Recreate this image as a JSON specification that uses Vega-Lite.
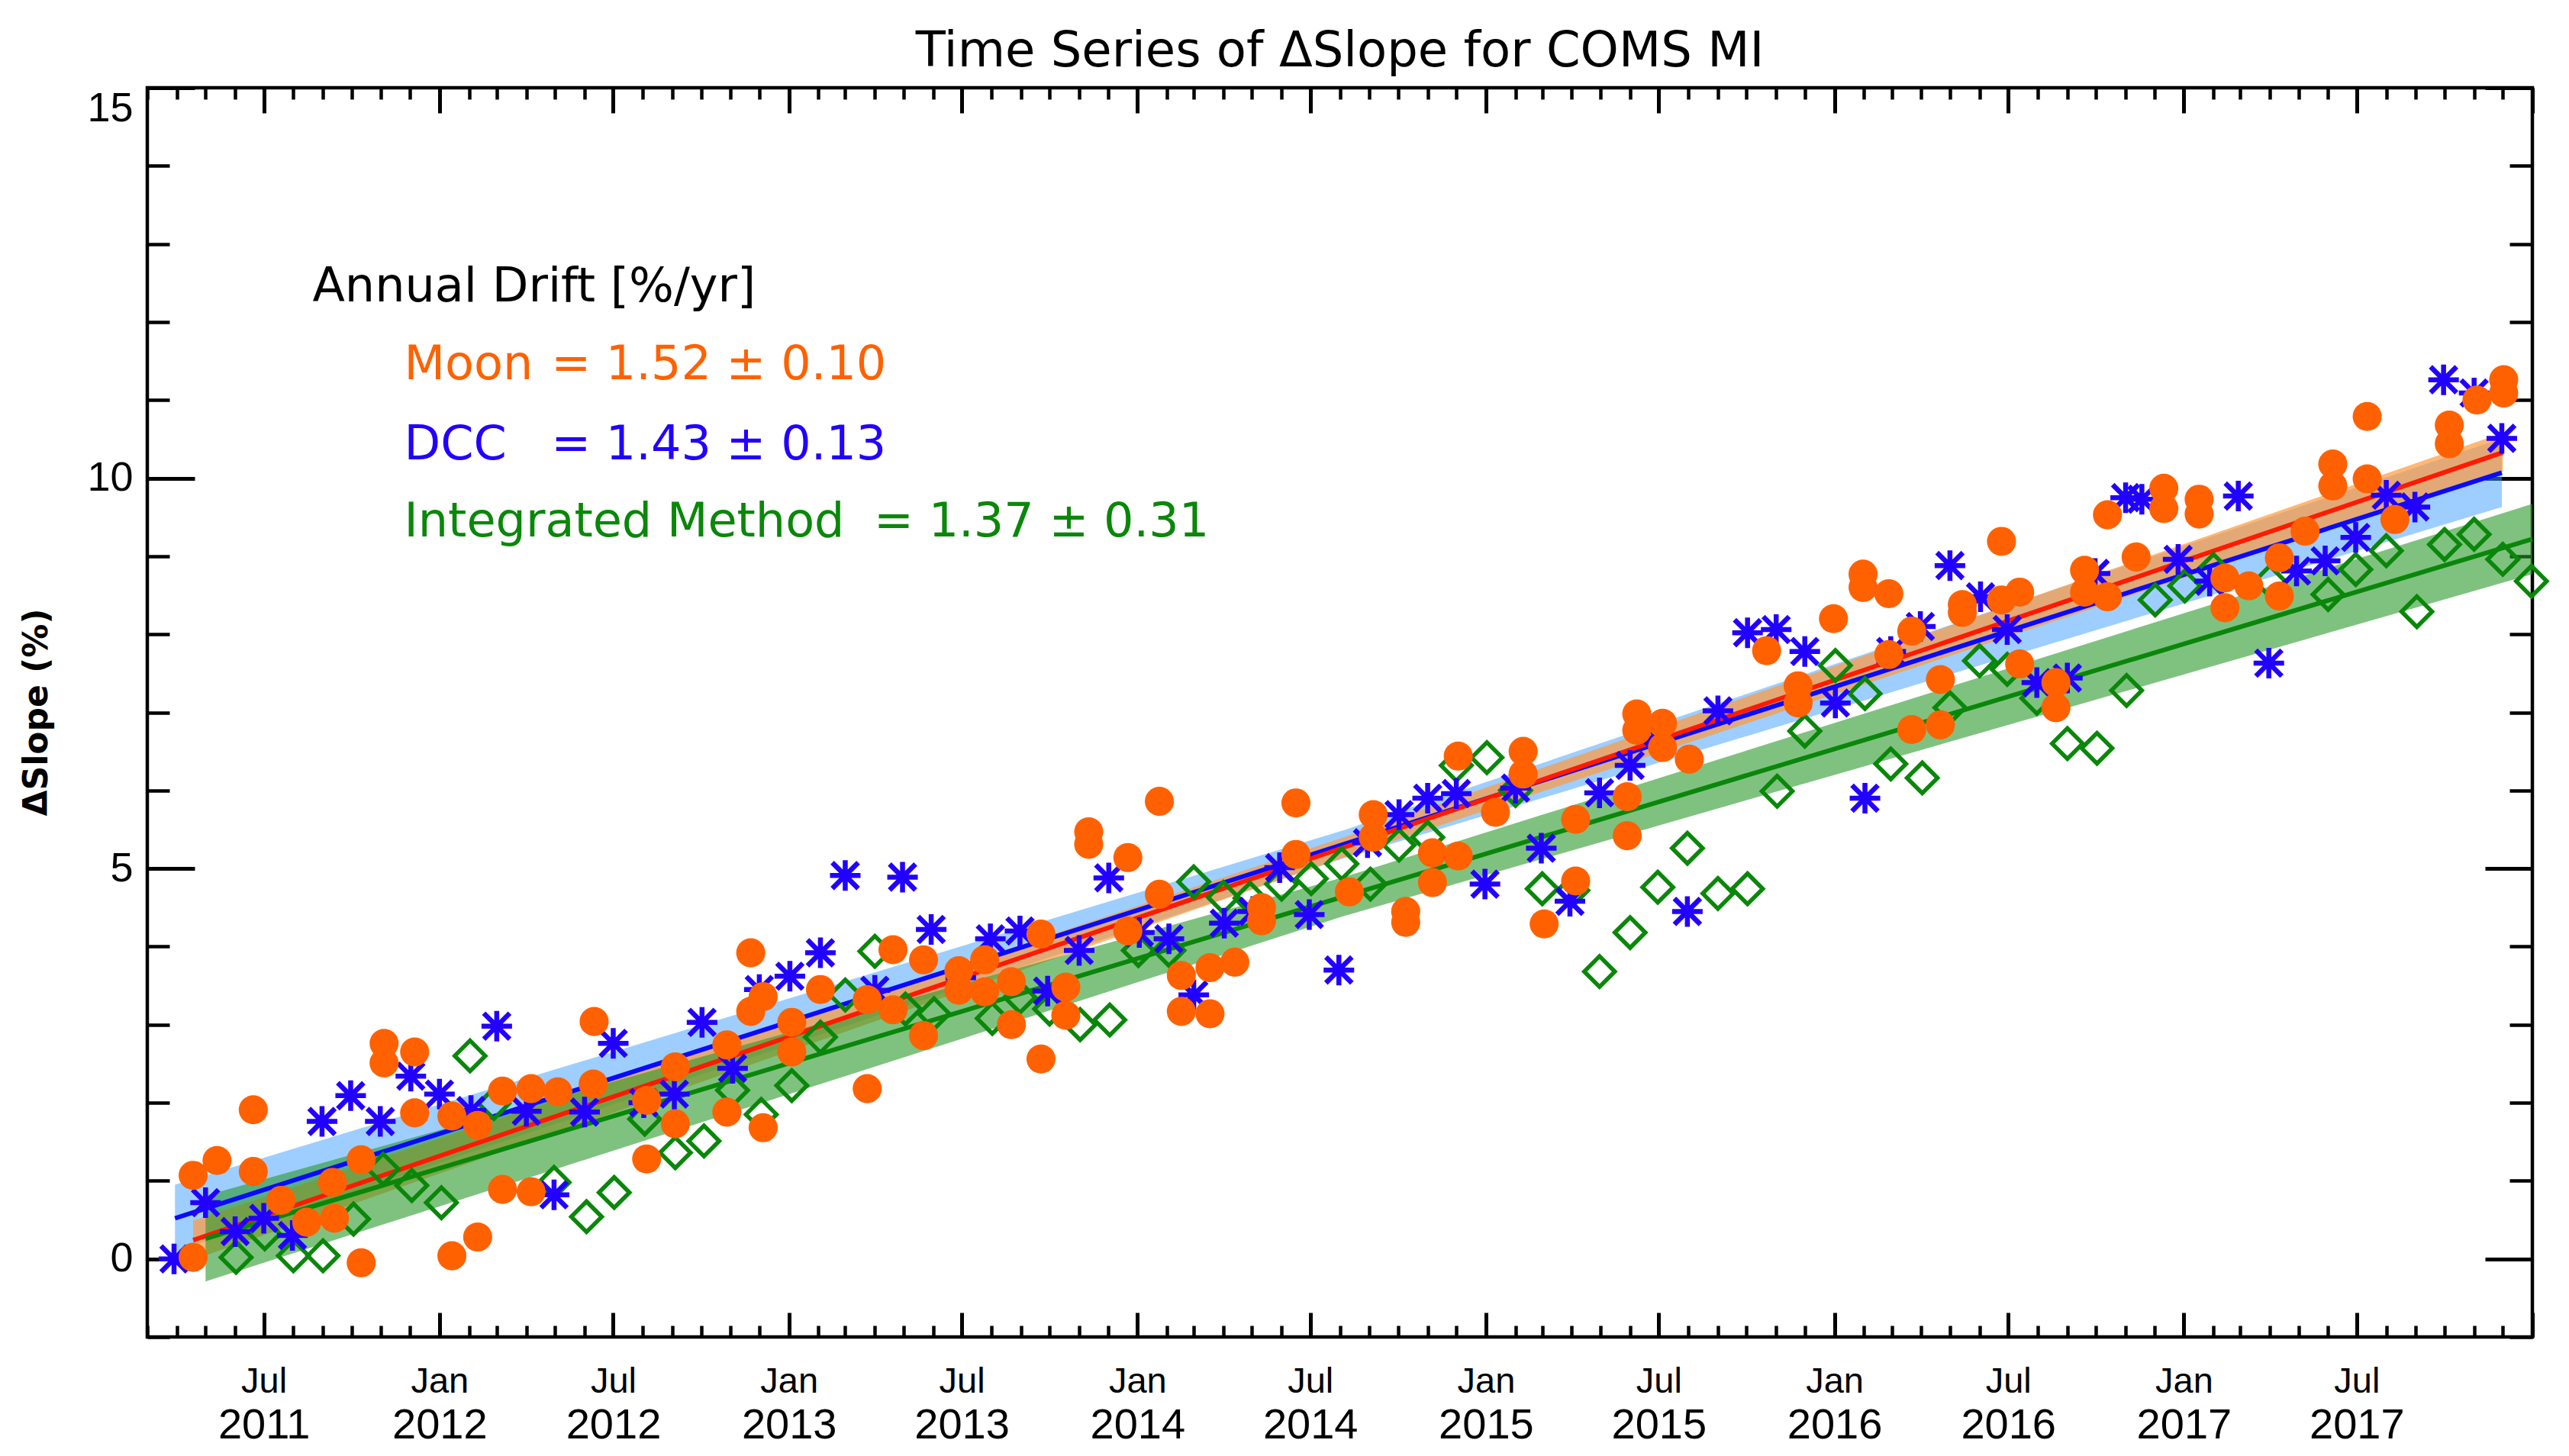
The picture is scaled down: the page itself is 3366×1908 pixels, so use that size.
{
  "$schema": "https://vega.github.io/schema/vega-lite/v6.json",
  "width": 3125,
  "height": 1637,
  "autosize": "none",
  "padding": {"left": 193, "top": 115, "right": 48, "bottom": 156},
  "background": "white",
  "config": {
    "font": "DejaVu Sans",
    "view": {"stroke": "black", "strokeWidth": 4.5},
    "axis": {"grid": false, "domain": false, "tickColor": "black", "labelColor": "black", "labelFont": "Liberation Sans", "zindex": 1}
  },
  "title": {
    "text": "Time Series of ΔSlope for COMS MI",
    "font": "DejaVu Sans",
    "fontSize": 64,
    "fontWeight": "normal",
    "color": "black",
    "anchor": "middle",
    "baseline": "alphabetic",
    "offset": -38
  },
  "datasets": {
    "fit": [
      {"s": "DCC", "d": "2011-03-30", "f": 0.52, "lo": 0.09, "hi": 0.95},
      {"s": "DCC", "d": "2014-08-05", "f": 5.31, "lo": 5.13, "hi": 5.49},
      {"s": "DCC", "d": "2017-11-30", "f": 10.07, "lo": 9.63, "hi": 10.51},
      {"s": "Moon", "d": "2011-04-18", "f": 0.24, "lo": -0.01, "hi": 0.49},
      {"s": "Moon", "d": "2014-08-05", "f": 5.27, "lo": 5.14, "hi": 5.40},
      {"s": "Moon", "d": "2017-12-01", "f": 10.33, "lo": 10.08, "hi": 10.58},
      {"s": "Integrated", "d": "2011-05-01", "f": 0.26, "lo": -0.29, "hi": 0.81},
      {"s": "Integrated", "d": "2014-08-05", "f": 4.64, "lo": 4.39, "hi": 4.89},
      {"s": "Integrated", "d": "2018-01-01", "f": 9.22, "lo": 8.77, "hi": 9.67}
    ],
    "dcc": [
      {"d": "2011-03-29", "v": 0.00}, {"d": "2011-05-01", "v": 0.72}, {"d": "2011-06-01", "v": 0.35},
      {"d": "2011-07-01", "v": 0.52}, {"d": "2011-07-31", "v": 0.30}, {"d": "2011-08-31", "v": 1.76},
      {"d": "2011-09-30", "v": 2.09}, {"d": "2011-10-31", "v": 1.76}, {"d": "2011-12-02", "v": 2.34},
      {"d": "2012-01-01", "v": 2.11}, {"d": "2012-02-03", "v": 1.90}, {"d": "2012-03-01", "v": 2.98},
      {"d": "2012-04-01", "v": 1.89}, {"d": "2012-04-30", "v": 0.82}, {"d": "2012-06-01", "v": 1.88},
      {"d": "2012-07-01", "v": 2.76}, {"d": "2012-08-02", "v": 2.00}, {"d": "2012-09-03", "v": 2.11},
      {"d": "2012-10-02", "v": 3.03}, {"d": "2012-11-03", "v": 2.44}, {"d": "2012-12-01", "v": 3.45},
      {"d": "2013-01-02", "v": 3.62}, {"d": "2013-02-03", "v": 3.92}, {"d": "2013-03-01", "v": 4.91},
      {"d": "2013-04-01", "v": 3.44}, {"d": "2013-04-30", "v": 4.89}, {"d": "2013-05-30", "v": 4.22},
      {"d": "2013-06-30", "v": 3.60}, {"d": "2013-07-31", "v": 4.10}, {"d": "2013-08-31", "v": 4.20},
      {"d": "2013-09-29", "v": 3.43}, {"d": "2013-11-01", "v": 3.95}, {"d": "2013-12-02", "v": 4.88},
      {"d": "2014-01-03", "v": 4.18}, {"d": "2014-02-03", "v": 4.10}, {"d": "2014-03-01", "v": 3.38},
      {"d": "2014-04-02", "v": 4.30}, {"d": "2014-05-02", "v": 4.45}, {"d": "2014-05-30", "v": 5.01},
      {"d": "2014-06-30", "v": 4.41}, {"d": "2014-07-31", "v": 3.70}, {"d": "2014-08-30", "v": 5.33},
      {"d": "2014-10-02", "v": 5.69}, {"d": "2014-11-01", "v": 5.90}, {"d": "2014-12-01", "v": 5.96},
      {"d": "2014-12-31", "v": 4.80}, {"d": "2015-02-01", "v": 6.03}, {"d": "2015-02-28", "v": 5.26},
      {"d": "2015-03-30", "v": 4.58}, {"d": "2015-04-30", "v": 5.97}, {"d": "2015-06-01", "v": 6.32},
      {"d": "2015-06-30", "v": 6.75}, {"d": "2015-07-31", "v": 4.45}, {"d": "2015-09-01", "v": 7.02},
      {"d": "2015-10-02", "v": 8.02}, {"d": "2015-11-01", "v": 8.06}, {"d": "2015-12-01", "v": 7.78},
      {"d": "2016-01-02", "v": 7.12}, {"d": "2016-02-02", "v": 5.90}, {"d": "2016-02-29", "v": 7.78},
      {"d": "2016-03-31", "v": 8.10}, {"d": "2016-05-01", "v": 8.88}, {"d": "2016-06-02", "v": 8.48},
      {"d": "2016-06-30", "v": 8.06}, {"d": "2016-07-31", "v": 7.38}, {"d": "2016-09-01", "v": 7.44},
      {"d": "2016-09-30", "v": 8.78}, {"d": "2016-11-01", "v": 9.75}, {"d": "2016-11-18", "v": 9.73},
      {"d": "2016-12-26", "v": 8.96}, {"d": "2017-01-28", "v": 8.68}, {"d": "2017-02-27", "v": 9.77},
      {"d": "2017-03-31", "v": 7.63}, {"d": "2017-04-29", "v": 8.81}, {"d": "2017-05-29", "v": 8.94},
      {"d": "2017-06-30", "v": 9.24}, {"d": "2017-08-01", "v": 9.78}, {"d": "2017-08-31", "v": 9.63},
      {"d": "2017-09-30", "v": 11.26}, {"d": "2017-11-01", "v": 11.09}, {"d": "2017-11-30", "v": 10.51}
    ],
    "moon": [
      {"d": "2011-04-18", "v": 0.02}, {"d": "2011-04-18", "v": 1.07}, {"d": "2011-05-13", "v": 1.26},
      {"d": "2011-06-20", "v": 1.91}, {"d": "2011-06-20", "v": 1.12}, {"d": "2011-07-19", "v": 0.75},
      {"d": "2011-08-15", "v": 0.47}, {"d": "2011-09-11", "v": 0.98}, {"d": "2011-09-13", "v": 0.52},
      {"d": "2011-10-11", "v": 1.27}, {"d": "2011-10-11", "v": -0.05}, {"d": "2011-11-04", "v": 2.76},
      {"d": "2011-11-04", "v": 2.51}, {"d": "2011-12-06", "v": 2.65}, {"d": "2011-12-06", "v": 1.87},
      {"d": "2012-01-14", "v": 1.83}, {"d": "2012-01-14", "v": 0.04}, {"d": "2012-02-10", "v": 1.71},
      {"d": "2012-02-10", "v": 0.28}, {"d": "2012-03-07", "v": 2.15}, {"d": "2012-03-07", "v": 0.89},
      {"d": "2012-04-06", "v": 2.18}, {"d": "2012-04-06", "v": 0.86}, {"d": "2012-05-04", "v": 2.14},
      {"d": "2012-06-10", "v": 2.24}, {"d": "2012-06-11", "v": 3.04}, {"d": "2012-08-05", "v": 2.03},
      {"d": "2012-08-05", "v": 1.28}, {"d": "2012-09-04", "v": 2.46}, {"d": "2012-09-04", "v": 1.73},
      {"d": "2012-10-28", "v": 2.74}, {"d": "2012-10-28", "v": 1.88}, {"d": "2012-11-22", "v": 3.92},
      {"d": "2012-11-22", "v": 3.17}, {"d": "2012-12-05", "v": 3.36}, {"d": "2012-12-05", "v": 1.68},
      {"d": "2013-01-04", "v": 3.03}, {"d": "2013-01-04", "v": 2.65}, {"d": "2013-02-03", "v": 3.45},
      {"d": "2013-03-24", "v": 3.32}, {"d": "2013-03-24", "v": 2.18}, {"d": "2013-04-20", "v": 3.96},
      {"d": "2013-04-20", "v": 3.19}, {"d": "2013-05-22", "v": 3.83}, {"d": "2013-05-22", "v": 2.86},
      {"d": "2013-06-28", "v": 3.69}, {"d": "2013-06-28", "v": 3.44}, {"d": "2013-07-25", "v": 3.83},
      {"d": "2013-07-25", "v": 3.42}, {"d": "2013-08-22", "v": 3.55}, {"d": "2013-08-22", "v": 3.00},
      {"d": "2013-09-22", "v": 4.16}, {"d": "2013-09-22", "v": 2.56}, {"d": "2013-10-18", "v": 3.48},
      {"d": "2013-10-18", "v": 3.12}, {"d": "2013-11-11", "v": 5.47}, {"d": "2013-11-11", "v": 5.31},
      {"d": "2013-12-22", "v": 5.14}, {"d": "2013-12-22", "v": 4.20}, {"d": "2014-01-24", "v": 5.86},
      {"d": "2014-01-24", "v": 4.67}, {"d": "2014-02-16", "v": 3.63}, {"d": "2014-02-16", "v": 3.17},
      {"d": "2014-03-18", "v": 3.73}, {"d": "2014-03-18", "v": 3.14}, {"d": "2014-04-13", "v": 3.80},
      {"d": "2014-05-11", "v": 4.50}, {"d": "2014-05-11", "v": 4.33}, {"d": "2014-06-16", "v": 5.84},
      {"d": "2014-06-16", "v": 5.18}, {"d": "2014-08-11", "v": 4.70}, {"d": "2014-09-05", "v": 5.69},
      {"d": "2014-09-05", "v": 5.40}, {"d": "2014-10-09", "v": 4.45}, {"d": "2014-10-09", "v": 4.31},
      {"d": "2014-11-06", "v": 5.20}, {"d": "2014-11-06", "v": 4.82}, {"d": "2014-12-03", "v": 6.44},
      {"d": "2014-12-03", "v": 5.16}, {"d": "2015-01-11", "v": 5.72}, {"d": "2015-02-09", "v": 6.50},
      {"d": "2015-02-09", "v": 6.21}, {"d": "2015-03-03", "v": 4.29}, {"d": "2015-04-05", "v": 5.63},
      {"d": "2015-04-05", "v": 4.84}, {"d": "2015-05-29", "v": 5.92}, {"d": "2015-05-29", "v": 5.42},
      {"d": "2015-06-08", "v": 6.98}, {"d": "2015-06-08", "v": 6.77}, {"d": "2015-07-05", "v": 6.86},
      {"d": "2015-07-05", "v": 6.55}, {"d": "2015-08-02", "v": 6.40}, {"d": "2015-10-22", "v": 7.79},
      {"d": "2015-11-24", "v": 7.34}, {"d": "2015-11-24", "v": 7.12}, {"d": "2015-12-31", "v": 8.20},
      {"d": "2016-01-31", "v": 8.77}, {"d": "2016-01-31", "v": 8.60}, {"d": "2016-02-27", "v": 8.52},
      {"d": "2016-02-27", "v": 7.74}, {"d": "2016-03-22", "v": 8.04}, {"d": "2016-03-22", "v": 6.78},
      {"d": "2016-04-21", "v": 7.42}, {"d": "2016-04-21", "v": 6.84}, {"d": "2016-05-14", "v": 8.38},
      {"d": "2016-05-14", "v": 8.28}, {"d": "2016-06-24", "v": 9.19}, {"d": "2016-06-24", "v": 8.44},
      {"d": "2016-07-13", "v": 8.54}, {"d": "2016-07-13", "v": 7.62}, {"d": "2016-08-20", "v": 7.38},
      {"d": "2016-08-20", "v": 7.06}, {"d": "2016-09-19", "v": 8.82}, {"d": "2016-09-19", "v": 8.54},
      {"d": "2016-10-13", "v": 9.53}, {"d": "2016-10-13", "v": 8.48}, {"d": "2016-11-12", "v": 8.99},
      {"d": "2016-12-11", "v": 9.87}, {"d": "2016-12-11", "v": 9.61}, {"d": "2017-01-17", "v": 9.73},
      {"d": "2017-01-17", "v": 9.54}, {"d": "2017-02-13", "v": 8.72}, {"d": "2017-02-13", "v": 8.34},
      {"d": "2017-03-10", "v": 8.62}, {"d": "2017-04-11", "v": 8.98}, {"d": "2017-04-11", "v": 8.49},
      {"d": "2017-05-08", "v": 9.32}, {"d": "2017-06-06", "v": 10.18}, {"d": "2017-06-06", "v": 9.90},
      {"d": "2017-07-12", "v": 10.79}, {"d": "2017-07-12", "v": 9.99}, {"d": "2017-08-10", "v": 9.47},
      {"d": "2017-10-06", "v": 10.68}, {"d": "2017-10-06", "v": 10.44}, {"d": "2017-11-04", "v": 11.00},
      {"d": "2017-12-02", "v": 11.26}, {"d": "2017-12-02", "v": 11.09}
    ],
    "integ": [
      {"d": "2011-06-02", "v": 0.02}, {"d": "2011-07-02", "v": 0.32}, {"d": "2011-08-01", "v": 0.04},
      {"d": "2011-09-01", "v": 0.04}, {"d": "2011-10-03", "v": 0.51}, {"d": "2011-11-03", "v": 1.15},
      {"d": "2011-12-03", "v": 0.94}, {"d": "2012-01-03", "v": 0.72}, {"d": "2012-02-02", "v": 2.60},
      {"d": "2012-02-27", "v": 1.99}, {"d": "2012-04-30", "v": 0.98}, {"d": "2012-06-03", "v": 0.54},
      {"d": "2012-07-02", "v": 0.85}, {"d": "2012-08-03", "v": 1.79}, {"d": "2012-09-04", "v": 1.36},
      {"d": "2012-10-04", "v": 1.51}, {"d": "2012-11-03", "v": 2.16}, {"d": "2012-12-03", "v": 1.85},
      {"d": "2013-01-04", "v": 2.22}, {"d": "2013-02-03", "v": 2.84}, {"d": "2013-03-01", "v": 3.38},
      {"d": "2013-04-01", "v": 3.94}, {"d": "2013-05-03", "v": 3.20}, {"d": "2013-06-02", "v": 3.14},
      {"d": "2013-08-02", "v": 3.08}, {"d": "2013-08-31", "v": 3.35}, {"d": "2013-10-01", "v": 3.20},
      {"d": "2013-11-02", "v": 3.00}, {"d": "2013-12-03", "v": 3.06}, {"d": "2014-01-02", "v": 3.95},
      {"d": "2014-02-03", "v": 3.95}, {"d": "2014-03-01", "v": 4.83}, {"d": "2014-04-01", "v": 4.63},
      {"d": "2014-04-29", "v": 4.62}, {"d": "2014-06-01", "v": 4.80}, {"d": "2014-07-02", "v": 4.87},
      {"d": "2014-08-03", "v": 5.06}, {"d": "2014-09-02", "v": 4.80}, {"d": "2014-10-02", "v": 5.30},
      {"d": "2014-11-01", "v": 5.40}, {"d": "2014-12-01", "v": 6.32}, {"d": "2015-01-02", "v": 6.42},
      {"d": "2015-02-01", "v": 6.00}, {"d": "2015-03-01", "v": 4.74}, {"d": "2015-04-02", "v": 4.72},
      {"d": "2015-04-30", "v": 3.68}, {"d": "2015-06-01", "v": 4.18}, {"d": "2015-06-30", "v": 4.76},
      {"d": "2015-07-31", "v": 5.26}, {"d": "2015-09-01", "v": 4.68}, {"d": "2015-10-02", "v": 4.74},
      {"d": "2015-11-02", "v": 5.99}, {"d": "2015-12-01", "v": 6.76}, {"d": "2016-01-02", "v": 7.60},
      {"d": "2016-02-02", "v": 7.24}, {"d": "2016-02-29", "v": 6.34}, {"d": "2016-04-02", "v": 6.16},
      {"d": "2016-05-01", "v": 7.06}, {"d": "2016-06-01", "v": 7.66}, {"d": "2016-06-30", "v": 7.55},
      {"d": "2016-07-31", "v": 7.18}, {"d": "2016-09-01", "v": 6.60}, {"d": "2016-10-02", "v": 6.54},
      {"d": "2016-11-02", "v": 7.28}, {"d": "2016-12-02", "v": 8.44}, {"d": "2017-01-02", "v": 8.62},
      {"d": "2017-02-01", "v": 8.83}, {"d": "2017-04-01", "v": 8.68}, {"d": "2017-06-01", "v": 8.51},
      {"d": "2017-06-30", "v": 8.83}, {"d": "2017-08-01", "v": 9.07}, {"d": "2017-09-02", "v": 8.29},
      {"d": "2017-10-01", "v": 9.15}, {"d": "2017-11-01", "v": 9.28}, {"d": "2017-12-01", "v": 8.96},
      {"d": "2017-12-31", "v": 8.68}
    ],
    "notes": [
      {"t": "Annual Drift [%/yr]", "k": "head", "d": "2011-08-21", "v": 12.26},
      {"t": "Moon", "k": "Moon", "d": "2011-11-25", "v": 11.27},
      {"t": "= 1.52 ± 0.10", "k": "Moon", "d": "2012-04-27", "v": 11.27},
      {"t": "DCC", "k": "DCC", "d": "2011-11-25", "v": 10.24},
      {"t": "= 1.43 ± 0.13", "k": "DCC", "d": "2012-04-27", "v": 10.24},
      {"t": "Integrated Method", "k": "Integrated", "d": "2011-11-25", "v": 9.25},
      {"t": "= 1.37 ± 0.31", "k": "Integrated", "d": "2013-03-31", "v": 9.25}
    ]
  },
  "resolve": {
    "scale": {"x": "shared", "y": "shared"},
    "axis": {"x": "independent", "y": "independent"}
  },
  "layer": [
    {
      "data": {"name": "fit"},
      "transform": [{"filter": "datum.s === 'DCC'"}],
      "mark": {"type": "area", "color": "#3d9dff", "opacity": 0.5},
      "encoding": {
        "x": {
          "field": "d", "type": "temporal",
          "scale": {"type": "utc", "nice": false, "domain": [{"year": 2011, "month": 3, "date": 1, "utc": true}, {"year": 2018, "month": 1, "date": 1, "utc": true}]},
          "axis": {
            "orient": "bottom", "title": null, "ticks": false,
            "values": [
              {"year": 2011, "month": 7, "date": 1, "utc": true}, {"year": 2012, "month": 1, "date": 1, "utc": true},
              {"year": 2012, "month": 7, "date": 1, "utc": true}, {"year": 2013, "month": 1, "date": 1, "utc": true},
              {"year": 2013, "month": 7, "date": 1, "utc": true}, {"year": 2014, "month": 1, "date": 1, "utc": true},
              {"year": 2014, "month": 7, "date": 1, "utc": true}, {"year": 2015, "month": 1, "date": 1, "utc": true},
              {"year": 2015, "month": 7, "date": 1, "utc": true}, {"year": 2016, "month": 1, "date": 1, "utc": true},
              {"year": 2016, "month": 7, "date": 1, "utc": true}, {"year": 2017, "month": 1, "date": 1, "utc": true},
              {"year": 2017, "month": 7, "date": 1, "utc": true}
            ],
            "labelExpr": "utcFormat(datum.value, '%b')",
            "labelFontSize": 47, "labelPadding": 72, "labelBaseline": "alphabetic",
            "labelOverlap": false, "labelFlush": false
          }
        },
        "y": {
          "field": "lo", "type": "quantitative",
          "scale": {"domain": [-1, 15], "nice": false, "zero": false},
          "axis": {
            "orient": "left", "values": [0, 5, 10, 15], "ticks": false,
            "labelFontSize": 54, "labelPadding": 19, "labelFlush": true, "labelOverlap": false,
            "title": "ΔSlope (%)", "titleFont": "DejaVu Sans", "titleFontSize": 44, "titleFontWeight": "bold",
            "titleColor": "black", "titleAngle": -90, "titleX": -145, "titleY": 818,
            "titleAlign": "center", "titleBaseline": "middle"
          }
        },
        "y2": {"field": "hi"}
      }
    },
    {
      "data": {"name": "fit"},
      "transform": [{"filter": "datum.s === 'Moon'"}],
      "mark": {"type": "area", "color": "#ff9a3c", "opacity": 0.7},
      "encoding": {
        "x": {
          "field": "d", "type": "temporal",
          "scale": {"type": "utc", "nice": false, "domain": [{"year": 2011, "month": 3, "date": 1, "utc": true}, {"year": 2018, "month": 1, "date": 1, "utc": true}]},
          "axis": {"orient": "bottom", "title": null, "labels": false, "tickCount": {"interval": "month", "step": 6}, "tickSize": -32, "tickWidth": 5}
        },
        "y": {
          "field": "lo", "type": "quantitative",
          "scale": {"domain": [-1, 15], "nice": false, "zero": false},
          "axis": {"orient": "left", "title": null, "labels": false, "values": [0, 5, 10, 15], "tickSize": -62, "tickWidth": 5}
        },
        "y2": {"field": "hi"}
      }
    },
    {
      "data": {"name": "fit"},
      "transform": [{"filter": "datum.s === 'Integrated'"}],
      "mark": {"type": "area", "color": "#2a9a2a", "opacity": 0.6},
      "encoding": {
        "x": {
          "field": "d", "type": "temporal",
          "scale": {"type": "utc", "nice": false, "domain": [{"year": 2011, "month": 3, "date": 1, "utc": true}, {"year": 2018, "month": 1, "date": 1, "utc": true}]},
          "axis": {
            "orient": "bottom", "title": null, "ticks": false,
            "values": [
              {"year": 2011, "month": 7, "date": 1, "utc": true}, {"year": 2012, "month": 1, "date": 1, "utc": true},
              {"year": 2012, "month": 7, "date": 1, "utc": true}, {"year": 2013, "month": 1, "date": 1, "utc": true},
              {"year": 2013, "month": 7, "date": 1, "utc": true}, {"year": 2014, "month": 1, "date": 1, "utc": true},
              {"year": 2014, "month": 7, "date": 1, "utc": true}, {"year": 2015, "month": 1, "date": 1, "utc": true},
              {"year": 2015, "month": 7, "date": 1, "utc": true}, {"year": 2016, "month": 1, "date": 1, "utc": true},
              {"year": 2016, "month": 7, "date": 1, "utc": true}, {"year": 2017, "month": 1, "date": 1, "utc": true},
              {"year": 2017, "month": 7, "date": 1, "utc": true}
            ],
            "labelExpr": "utcFormat(datum.value, '%Y')",
            "labelFontSize": 56, "labelPadding": 132, "labelBaseline": "alphabetic",
            "labelOverlap": false, "labelFlush": false
          }
        },
        "y": {
          "field": "lo", "type": "quantitative",
          "scale": {"domain": [-1, 15], "nice": false, "zero": false},
          "axis": {"orient": "left", "title": null, "labels": false, "values": [-1, 0, 1, 2, 3, 4, 5, 6, 7, 8, 9, 10, 11, 12, 13, 14, 15], "tickSize": -29, "tickWidth": 4.5}
        },
        "y2": {"field": "hi"}
      }
    },
    {
      "data": {"name": "fit"},
      "transform": [{"filter": "datum.s === 'DCC'"}],
      "mark": {"type": "line", "color": "#0a0aff", "strokeWidth": 6},
      "encoding": {
        "x": {
          "field": "d", "type": "temporal",
          "scale": {"type": "utc", "nice": false, "domain": [{"year": 2011, "month": 3, "date": 1, "utc": true}, {"year": 2018, "month": 1, "date": 1, "utc": true}]},
          "axis": {"orient": "top", "title": null, "labels": false, "tickCount": {"interval": "month", "step": 6}, "tickSize": -33, "tickWidth": 5}
        },
        "y": {
          "field": "f", "type": "quantitative",
          "scale": {"domain": [-1, 15], "nice": false, "zero": false},
          "axis": {"orient": "right", "title": null, "labels": false, "values": [0, 5, 10, 15], "tickSize": -62, "tickWidth": 5}
        }
      }
    },
    {
      "data": {"name": "fit"},
      "transform": [{"filter": "datum.s === 'Moon'"}],
      "mark": {"type": "line", "color": "#ff1a00", "strokeWidth": 6},
      "encoding": {
        "x": {
          "field": "d", "type": "temporal",
          "scale": {"type": "utc", "nice": false, "domain": [{"year": 2011, "month": 3, "date": 1, "utc": true}, {"year": 2018, "month": 1, "date": 1, "utc": true}]},
          "axis": {"orient": "top", "title": null, "labels": false, "tickCount": {"interval": "month", "step": 1}, "tickSize": -15, "tickWidth": 4.5}
        },
        "y": {
          "field": "f", "type": "quantitative",
          "scale": {"domain": [-1, 15], "nice": false, "zero": false},
          "axis": {"orient": "right", "title": null, "labels": false, "values": [-1, 0, 1, 2, 3, 4, 5, 6, 7, 8, 9, 10, 11, 12, 13, 14, 15], "tickSize": -30, "tickWidth": 4.5}
        }
      }
    },
    {
      "data": {"name": "fit"},
      "transform": [{"filter": "datum.s === 'Integrated'"}],
      "mark": {"type": "line", "color": "#0a870a", "strokeWidth": 6},
      "encoding": {
        "x": {
          "field": "d", "type": "temporal",
          "scale": {"type": "utc", "nice": false, "domain": [{"year": 2011, "month": 3, "date": 1, "utc": true}, {"year": 2018, "month": 1, "date": 1, "utc": true}]},
          "axis": {"orient": "bottom", "title": null, "labels": false, "tickCount": {"interval": "month", "step": 1}, "tickSize": -15, "tickWidth": 4.5}
        },
        "y": {"field": "f", "type": "quantitative", "axis": null}
      }
    },
    {
      "mark": {"type": "rule", "color": "#330022", "strokeWidth": 3, "strokeDash": [16, 14]},
      "encoding": {
        "y": {"datum": 0, "type": "quantitative", "axis": null}
      }
    },
    {
      "data": {"name": "integ"},
      "mark": {"type": "point", "shape": "diamond", "filled": false, "size": 1600, "strokeWidth": 5.5, "color": "#0a870a", "opacity": 1},
      "encoding": {
        "x": {"field": "d", "type": "temporal", "axis": null},
        "y": {"field": "v", "type": "quantitative", "axis": null}
      }
    },
    {
      "data": {"name": "dcc"},
      "mark": {"type": "point", "shape": "M-1,0L1,0M0,-1L0,1M-0.85,-0.85L0.85,0.85M-0.85,0.85L0.85,-0.85", "filled": false, "size": 1600, "strokeWidth": 6.5, "color": "#2200ff", "opacity": 1},
      "encoding": {
        "x": {"field": "d", "type": "temporal", "axis": null},
        "y": {"field": "v", "type": "quantitative", "axis": null}
      }
    },
    {
      "data": {"name": "moon"},
      "mark": {"type": "circle", "size": 1450, "color": "#ff6100", "opacity": 1},
      "encoding": {
        "x": {"field": "d", "type": "temporal", "axis": null},
        "y": {"field": "v", "type": "quantitative", "axis": null}
      }
    },
    {
      "data": {"name": "notes"},
      "mark": {"type": "text", "align": "left", "baseline": "alphabetic", "font": "DejaVu Sans", "fontSize": 62},
      "encoding": {
        "x": {"field": "d", "type": "temporal", "axis": null},
        "y": {"field": "v", "type": "quantitative", "axis": null},
        "text": {"field": "t"},
        "color": {
          "field": "k", "type": "nominal", "legend": null,
          "scale": {"domain": ["head", "Moon", "DCC", "Integrated"], "range": ["#000000", "#ff6100", "#2200ff", "#0a870a"]}
        }
      }
    }
  ]
}
